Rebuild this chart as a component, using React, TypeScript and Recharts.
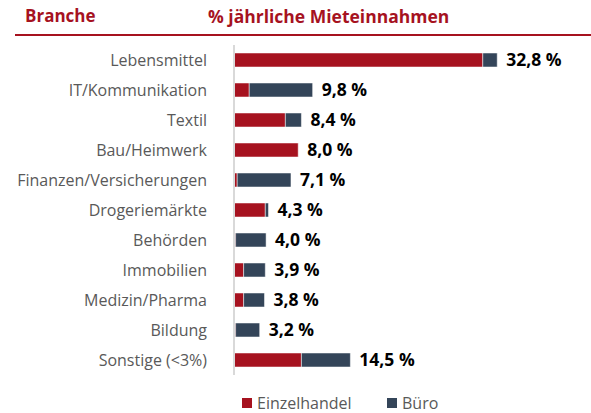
import { BarChart, Bar, XAxis, YAxis, LabelList } from "recharts";

const categories = [
  "Lebensmittel",
  "IT/Kommunikation",
  "Textil",
  "Bau/Heimwerk",
  "Finanzen/Versicherungen",
  "Drogeriemärkte",
  "Behörden",
  "Immobilien",
  "Medizin/Pharma",
  "Bildung",
  "Sonstige (<3%)",
];
const einzelhandel = [31.0, 1.9, 6.4, 8.0, 0.4, 3.9, 0.2, 1.2, 1.2, 0.2, 8.4];
const buero = [1.8, 7.9, 2.0, 0.0, 6.7, 0.4, 3.8, 2.7, 2.6, 3.0, 6.1];
const totals = [32.8, 9.8, 8.4, 8.0, 7.1, 4.3, 4.0, 3.9, 3.8, 3.2, 14.5];

const RED = "#a6121f";
const NAVY = "#344559";
const FONT = "'Open Sans', sans-serif";

const data = categories.map((name, i) => ({
  name,
  einzelhandel: einzelhandel[i],
  buero: buero[i],
  total: totals[i],
}));

const fmt = (v: number) => `${v.toFixed(1).replace(".", ",")} %`;

function LegendItem({ color, label, left }: { color: string; label: string; left: number }) {
  return (
    <div style={{ position: "absolute", left, top: 392, display: "flex", alignItems: "center", fontSize: 16, color: "#595959" }}>
      <span style={{ width: 10, height: 10, background: color, marginRight: 5, display: "inline-block" }} />
      {label}
    </div>
  );
}

export default function App() {
  return (
    <div style={{ position: "absolute", left: 0, top: 0, width: 591, height: 413, background: "#fff", fontFamily: FONT }}>
      <div style={{ position: "absolute", left: 25, top: 4, fontSize: 17, fontWeight: 700, color: RED }}>Branche</div>
      <div style={{ position: "absolute", left: 208, top: 4, fontSize: 17.5, fontWeight: 700, color: RED }}>
        % jährliche Mieteinnahmen
      </div>
      <div style={{ position: "absolute", left: 15, top: 34, width: 576, height: 2, background: RED }} />
      <BarChart
        width={591}
        height={413}
        data={data}
        layout="vertical"
        margin={{ top: 45, right: 36, left: 0, bottom: 38 }}
        barSize={14}
      >
        <XAxis type="number" domain={[0, 40]} hide />
        <YAxis
          type="category"
          dataKey="name"
          width={234}
          axisLine={{ stroke: "#d9d9d9", strokeWidth: 2 }}
          tickLine={false}
          tickSize={0}
          tickMargin={27}
          tick={{ fill: "#595959", fontSize: 16, fontFamily: FONT }}
          interval={0}
        />
        <YAxis yAxisId="lbl" type="category" dataKey="name" hide />
        <Bar dataKey="einzelhandel" name="Einzelhandel" stackId="a" fill={RED} stroke="#fff" strokeWidth={0.5} isAnimationActive={false} />
        <Bar dataKey="buero" name="Büro" stackId="a" fill={NAVY} stroke="#fff" strokeWidth={0.5} isAnimationActive={false} />
        <Bar dataKey="total" yAxisId="lbl" fill="none" isAnimationActive={false}>
          <LabelList
            dataKey="total"
            position="right"
            offset={9}
            formatter={fmt}
            style={{ fill: "#000", fontSize: 17.5, fontWeight: 700, fontFamily: FONT }}
          />
        </Bar>
      </BarChart>
      <LegendItem color={RED} label="Einzelhandel" left={242} />
      <LegendItem color={NAVY} label="Büro" left={387} />
    </div>
  );
}
